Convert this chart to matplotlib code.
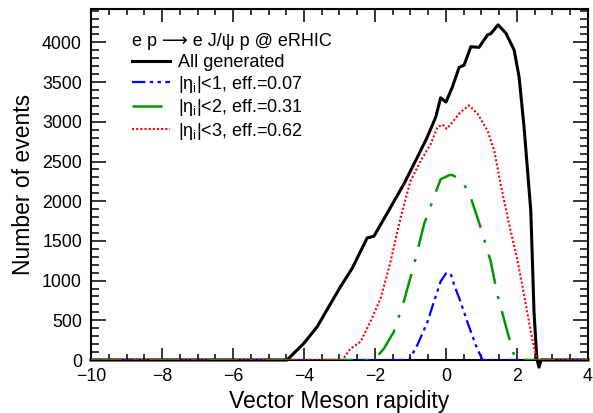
import matplotlib
matplotlib.use("Agg")
import matplotlib.pyplot as plt

# rapidity points, with event counts
all_y = [-10.0, -4.48, -4.01, -3.63, -3.30, -2.97, -2.64, -2.22, -2.03, -1.65, -1.19,
         -0.81, -0.53, -0.29, -0.15, 0.0, 0.18, 0.37, 0.51, 0.70, 0.93, 1.17, 1.26,
         1.47, 1.69, 1.92, 2.06, 2.20, 2.39, 2.48, 2.56, 2.62, 2.68, 4.0]
all_n = [0, 0, 207, 418, 672, 925, 1157, 1538, 1559, 1854, 2214,
         2551, 2805, 3058, 3303, 3249, 3439, 3685, 3714, 3946, 3938, 4094, 4110,
         4221, 4115, 3904, 3565, 2932, 1876, 608, 16, -90, 0, 0]

eta1_y = [-10.0, -1.04, -0.81, -0.52, -0.34, -0.15, 0.0, 0.13, 0.23, 0.41, 0.60,
          0.84, 1.03, 4.0]
eta1_n = [0, 0, 186, 481, 735, 989, 1090, 1090, 946, 735, 481, 186, 0, 0]

eta2_y = [-10.0, -2.03, -1.75, -1.47, -1.19, -0.90, -0.62, -0.38, -0.15, 0.10, 0.18,
          0.46, 0.70, 0.98, 1.26, 1.45, 1.73, 1.92, 2.02, 4.0]
eta2_n = [0, 0, 143, 355, 735, 1200, 1707, 2003, 2277, 2330, 2330,
          2256, 2044, 1664, 1242, 820, 355, 59, 0, 0]

eta3_y = [-10.0, -2.92, -2.69, -2.41, -2.13, -1.84, -1.56, -1.28, -1.00, -0.71, -0.43,
          -0.24, -0.10, 0.02, 0.18, 0.41, 0.65, 0.89, 1.17, 1.36, 1.54, 1.78,
          2.02, 2.20, 2.39, 2.53, 2.59, 4.0]
eta3_n = [0, 0, 143, 228, 481, 777, 1242, 1791, 2256, 2510, 2721,
          2932, 2966, 2911, 2995, 3122, 3207, 3101, 2890, 2636, 2214, 1707,
          1242, 820, 355, 63, 0, 0]

labels = ["All generated",
          r"|$\mathrm{\eta_{i}}$|<1, eff.=0.07",
          r"|$\mathrm{\eta_{i}}$|<2, eff.=0.31",
          r"|$\mathrm{\eta_{i}}$|<3, eff.=0.62"]
legend_title = "e p \u27f6 e J/\u03c8 p @ eRHIC"

plt.rcParams["font.family"] = ["Liberation Sans", "DejaVu Sans"]
plt.rcParams["mathtext.fontset"] = "custom"
plt.rcParams["mathtext.rm"] = "Liberation Sans"
plt.rcParams["mathtext.it"] = "Liberation Sans:italic"


def main():
    fig = plt.figure(figsize=(5.93, 4.13), dpi=100)
    ax = fig.add_axes([0.1535, 0.1283, 0.838, 0.8497])

    ax.plot(all_y, all_n, color="black", lw=2.2, label=labels[0], clip_on=False, zorder=2)
    ax.plot(eta1_y, eta1_n, color="#0000ff", lw=1.6,
            ls=(0, (6, 2, 1.5, 2, 1.5, 2)), label=labels[1], zorder=3)
    ax.plot(eta2_y, eta2_n, color="#009900", lw=1.8,
            ls=(0, (12, 5, 1.2, 5)), label=labels[2], zorder=3)
    ax.plot(eta3_y, eta3_n, color="#ff0000", lw=1.5,
            ls=(0, (1, 1)), label=labels[3], zorder=3)

    ax.set_xlim(-10, 4)
    ax.set_ylim(0, 4420)
    ax.set_xticks(range(-10, 5, 2))
    ax.set_xticks([x * 0.5 for x in range(-20, 9)], minor=True)
    ax.set_yticks(range(0, 4001, 500))
    ax.set_yticks(range(0, 4401, 100), minor=True)
    ax.set_xticklabels([str(t).replace("-", "\u2212") for t in range(-10, 5, 2)])

    ax.tick_params(axis="both", which="both", direction="in", top=True, right=True,
                   labelsize=12.8, width=1.1)
    ax.tick_params(axis="x", which="major", length=9, pad=6)
    ax.tick_params(axis="x", which="minor", length=4.5)
    ax.tick_params(axis="y", which="major", length=11, pad=6.5)
    ax.tick_params(axis="y", which="minor", length=5.5)
    for s in ax.spines.values():
        s.set_linewidth(1.5)

    ax.set_xlabel("Vector Meson rapidity", fontsize=16.5, va="center")
    ax.xaxis.set_label_coords(0.5, -0.117)
    ax.set_ylabel("Number of events", fontsize=16.5, va="center")
    ax.yaxis.set_label_coords(-0.135, 0.5)

    leg = ax.legend(loc="upper left", bbox_to_anchor=(131.7 / 593, 1 - 33 / 413),
                    bbox_transform=fig.transFigure, frameon=False, fontsize=13,
                    title=legend_title, title_fontsize=13,
                    alignment="left", handlelength=2.1, handletextpad=0.45,
                    labelspacing=0.14, borderpad=0, borderaxespad=0)
    leg._legend_box.sep = 3

    fig.savefig("out.png", dpi=100)
    plt.close(fig)


if __name__ == "__main__":
    main()
